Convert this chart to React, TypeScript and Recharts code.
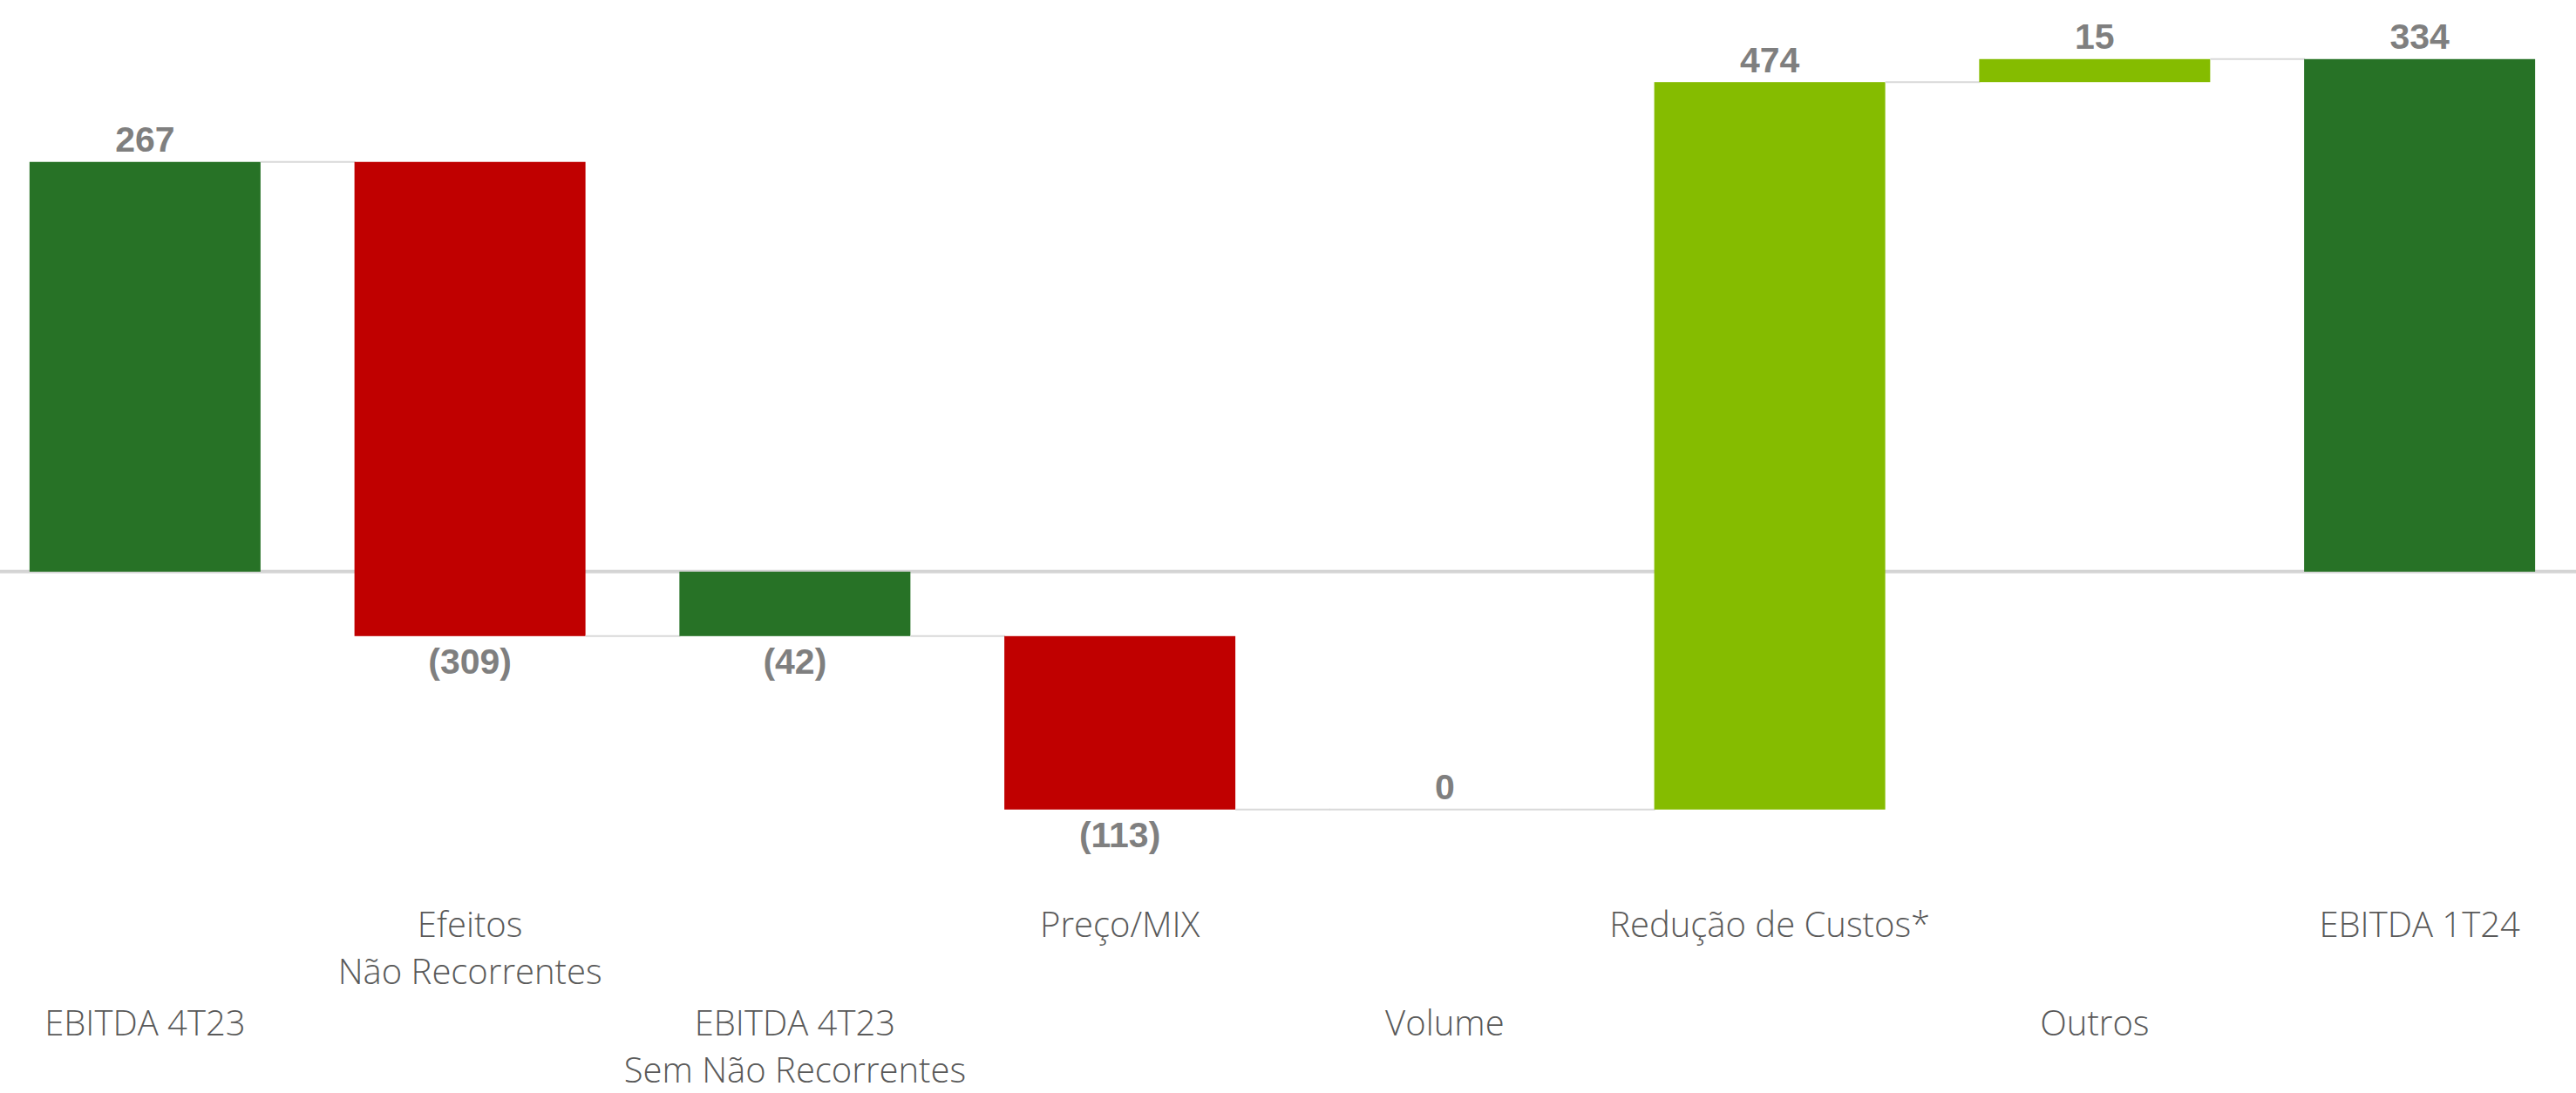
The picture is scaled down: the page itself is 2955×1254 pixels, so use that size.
import { Bar, BarChart, LabelList, ReferenceLine, XAxis, YAxis } from "recharts";

const categories = [
  "EBITDA 4T23",
  "Efeitos\nNão Recorrentes",
  "EBITDA 4T23\nSem Não Recorrentes",
  "Preço/MIX",
  "Volume",
  "Redução de Custos*",
  "Outros",
  "EBITDA 1T24",
];
const values = [267, -309, -42, -113, 0, 474, 15, 334];
const isTotal = [true, false, true, false, false, false, false, true];

const DARK_GREEN = "#277226";
const RED = "#c00000";
const LIGHT_GREEN = "#85bc00";
const CONNECTOR = "#d9d9d9";
const GAP = 0.1445; // category gap, each side, as a share of the band

let running = 0;
const data = categories.map((name, i) => {
  const start = isTotal[i] ? 0 : running;
  const end = isTotal[i] ? values[i] : running + values[i];
  running = end;
  const color = isTotal[i] ? DARK_GREEN : values[i] < 0 ? RED : LIGHT_GREEN;
  return { name, value: values[i], range: [start, end], start, end, color, last: i === categories.length - 1 };
});

function WaterfallBar(props: any) {
  const { x, y, width, height, payload } = props;
  const top = Math.min(y, y + height);
  const bottom = Math.max(y, y + height);
  const endY = payload.end >= payload.start ? top : bottom;
  const gapLen = (width * 2 * GAP) / (1 - 2 * GAP);
  return (
    <g>
      {bottom - top < 1 ? (
        <line x1={x} x2={x + width} y1={endY} y2={endY} stroke={CONNECTOR} strokeWidth={2} />
      ) : (
        <rect x={x} y={top} width={width} height={bottom - top} fill={payload.color} />
      )}
      {!payload.last ? (
        <line x1={x + width} x2={x + width + gapLen + 1} y1={endY} y2={endY} stroke={CONNECTOR} strokeWidth={2} />
      ) : null}
    </g>
  );
}

function ValueLabel(props: any) {
  const vb = props.viewBox ?? props;
  const x = vb.x ?? props.x;
  const y = vb.y ?? props.y;
  const width = vb.width ?? props.width;
  const height = vb.height ?? props.height;
  const value = Number(props.value);
  const top = Math.min(y, y + height);
  const bottom = Math.max(y, y + height);
  const neg = value < 0;
  return (
    <text
      x={x + width / 2}
      y={neg ? bottom + 29 : top - 26}
      dy="0.35em"
      textAnchor="middle"
      fill="#7f7f7f"
      fontSize={41}
      fontWeight="bold"
      fontFamily="'Liberation Sans', Arial, sans-serif"
    >
      {neg ? `(${Math.abs(value)})` : value}
    </text>
  );
}

function CategoryTick(props: any) {
  const { x, y, payload, index } = props;
  const lines = String(payload.value).split("\n");
  const firstLine = index % 2 === 1 ? 53 : 166;
  return (
    <text
      x={x}
      y={y}
      textAnchor="middle"
      fill="#595959"
      fontSize={40}
      fontWeight={300}
      fontFamily="'Open Sans', sans-serif"
    >
      {lines.map((line, i) => (
        <tspan key={i} x={x} y={y + firstLine + i * 54} dy="0.35em">
          {line}
        </tspan>
      ))}
    </text>
  );
}

export default function App() {
  return (
    <div
      style={{
        position: "absolute",
        left: 0,
        top: 0,
        width: 2955,
        height: 1254,
        overflow: "hidden",
        background: "#fff",
      }}
    >
      <div style={{ position: "absolute", left: -20, top: 0 }}>
        <BarChart
          width={2982}
          height={1254}
          data={data}
          margin={{ top: 22, right: 0, left: 0, bottom: 0 }}
          barCategoryGap={`${GAP * 100}%`}
        >
          <ReferenceLine y={0} stroke="#d4d4d4" strokeWidth={4} zIndex={-10} />
          <YAxis hide domain={[-200, 360]} ticks={[0]} allowDataOverflow />
          <XAxis
            dataKey="name"
            interval={0}
            axisLine={false}
            tickLine={false}
            tickSize={0}
            tickMargin={0}
            height={246}
            tick={<CategoryTick />}
          />
          <Bar dataKey="range" shape={<WaterfallBar />} isAnimationActive={false}>
            <LabelList dataKey="value" content={<ValueLabel />} />
          </Bar>
        </BarChart>
      </div>
    </div>
  );
}
